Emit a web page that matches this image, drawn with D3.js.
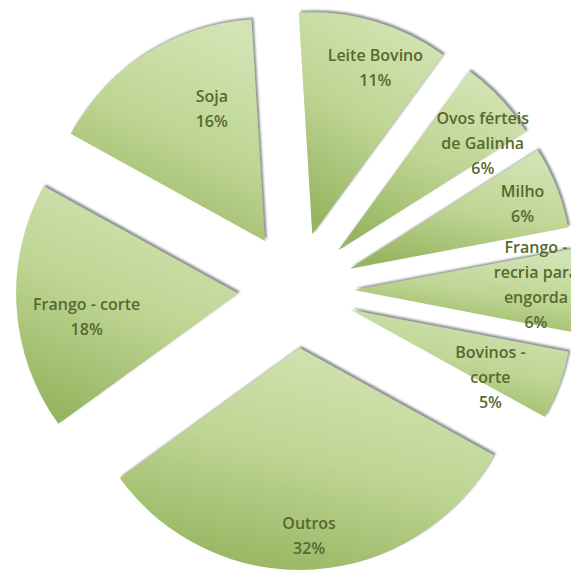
<!DOCTYPE html>
<html lang="pt">
<head>
  <meta charset="utf-8">
  <title>Pie chart</title>
  <style>
    html,body{margin:0;background:#fff}
    svg{display:block}
    .lbl{font-family:"Open Sans",sans-serif;font-size:16px;font-weight:600;fill:#56692f;text-anchor:middle}
  </style>
  <script src="https://d3js.org/d3.v7.min.js"></script>
</head>
<body>
<svg id="chart" width="571" height="572"></svg>
<script>
  // data, clockwise from 12 o'clock
  const labels=[["Leite Bovino"],["Ovos férteis","de Galinha"],["Milho"],["Frango -","recria para","engorda"],["Bovinos -","corte"],["Outros"],["Frango - corte"],["Soja"]];
  const values=[11,6,6,6,5,32,18,16];

  const W=571,H=572;
  const cx=296,cy=290,R=222,explode=58;
  const rot=-3.5*Math.PI/180;
  // label placement: fraction of radius and angle nudge (deg), per slice
  const labelFrac=[0.8,0.81,0.83,0.82,0.7,0.85,0.69,0.64];
  const labelNudge=[4.5,6.5,1,-1.8,5.9,0.6,-5.1,10.3];

  const svg=d3.select('#chart');
  const defs=svg.append('defs');

  const grad=defs.append('linearGradient').attr('id','g')
    .attr('x1','0.7').attr('y1','0').attr('x2','0.3').attr('y2','1');
  grad.append('stop').attr('offset','0').attr('stop-color','#d3e4b4');
  grad.append('stop').attr('offset','0.5').attr('stop-color','#bed593');
  grad.append('stop').attr('offset','1').attr('stop-color','#96b560');

  const f=defs.append('filter').attr('id','sh').attr('x','-10%').attr('y','-10%').attr('width','120%').attr('height','120%');
  f.append('feDropShadow').attr('dx',2).attr('dy',-2).attr('stdDeviation',1.2).attr('flood-color','#6f7478').attr('flood-opacity',0.8);

  const pie=d3.pie().sort(null).value(d=>d).startAngle(rot).endAngle(rot+2*Math.PI);
  const arcs=pie(values);
  const arc=d3.arc().innerRadius(0).outerRadius(R);

  const g=svg.append('g').attr('transform',`translate(${cx},${cy})`);

  const slice=g.selectAll('g.slice').data(arcs).enter().append('g')
    .attr('class','slice')
    .attr('transform',d=>{
      const a=(d.startAngle+d.endAngle)/2;
      return `translate(${explode*Math.sin(a)},${-explode*Math.cos(a)})`;
    });

  slice.append('path').attr('d',arc).attr('fill','url(#g)').attr('filter','url(#sh)');

  slice.append('text').attr('class','lbl')
    .attr('transform',(d,i)=>{
      const a=(d.startAngle+d.endAngle)/2+labelNudge[i]*Math.PI/180,r=R*labelFrac[i];
      return `translate(${r*Math.sin(a)},${-r*Math.cos(a)})`;
    })
    .each(function(d,i){
      const lines=labels[i].concat([values[i]+'%']);
      const t=d3.select(this);
      const y0=-(lines.length-1)*25/2;
      lines.forEach((s,k)=>t.append('tspan').attr('x',0).attr('y',y0+k*25).attr('dy','0.35em').text(s));
    });
</script>
</body>
</html>
